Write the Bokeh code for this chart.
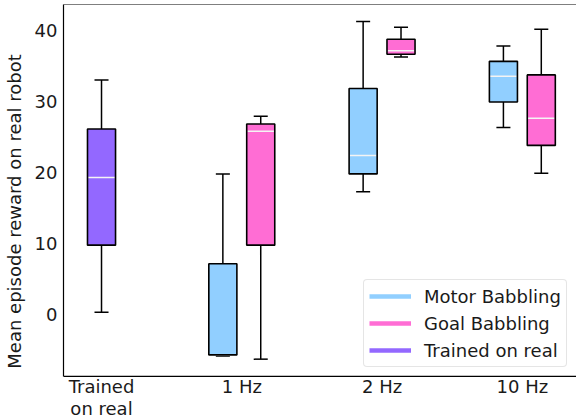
from bokeh.plotting import figure
from bokeh.models import ColumnDataSource, FixedTicker, Legend, LegendItem, Span
from bokeh.core.properties import value
from bokeh.embed import file_html
from bokeh.resources import INLINE

categories = ["Trained\non real", "1 Hz", "2 Hz", "10 Hz"]

# Trained on real (category 0)
trained_low = [0.4]
trained_q1 = [9.8]
trained_med = [19.3]
trained_q3 = [26.1]
trained_high = [33.0]

# Motor Babbling (1 Hz, 2 Hz, 10 Hz)
motor_low = [-5.75, 17.3, 26.3]
motor_q1 = [-5.6, 19.8, 29.9]
motor_med = [-5.6, 22.4, 33.5]
motor_q3 = [7.2, 31.8, 35.6]
motor_high = [19.8, 41.2, 37.75]

# Goal Babbling (1 Hz, 2 Hz, 10 Hz)
goal_low = [-6.2, 36.2, 19.9]
goal_q1 = [9.8, 36.6, 23.8]
goal_med = [25.8, 37.1, 27.6]
goal_q3 = [26.8, 38.7, 33.7]
goal_high = [27.9, 40.4, 40.1]

C_MOTOR = "#91CFFF"
C_GOAL = "#FF6DD4"
C_TRAINED = "#9368FF"
FONT = "DejaVu Sans"
TXT = "#1a1a1a"
FS = "18px"

BOX_W = 0.2
CAP_W = 0.1
X0, X1 = -0.271, 3.386
Y_AXIS = -8.63          # value where the bottom spine sits
Y0, Y1 = -14.53, 43.58  # frame range (extends below spine for the category labels)

p = figure(width=576, height=418, x_range=(X0, X1), y_range=(Y0, Y1),
           output_backend="svg", toolbar_location=None,
           min_border_left=63, min_border_right=0, min_border_top=4, min_border_bottom=0)
p.outline_line_color = None
p.xgrid.visible = False
p.ygrid.visible = False
p.xaxis.visible = False

def draw(cat_idx, offset, low, q1, med, q3, high, color):
    xs = [i + offset for i in cat_idx]
    src = ColumnDataSource(dict(x=xs, low=low, q1=q1, med=med, q3=q3, high=high,
                                l=[x - BOX_W / 2 for x in xs], r=[x + BOX_W / 2 for x in xs],
                                cl=[x - CAP_W / 2 for x in xs], cr=[x + CAP_W / 2 for x in xs],
                                ml=[x - BOX_W / 2 + 0.005 for x in xs], mr=[x + BOX_W / 2 - 0.005 for x in xs]))
    p.segment(x0="x", y0="q3", x1="x", y1="high", source=src, line_color="black", line_width=1.5)
    p.segment(x0="x", y0="low", x1="x", y1="q1", source=src, line_color="black", line_width=1.5)
    p.segment(x0="cl", y0="high", x1="cr", y1="high", source=src, line_color="black", line_width=1.5)
    p.segment(x0="cl", y0="low", x1="cr", y1="low", source=src, line_color="black", line_width=1.5)
    p.quad(left="l", right="r", bottom="q1", top="q3", source=src, fill_color=color, line_color=None)
    p.segment(x0="ml", y0="med", x1="mr", y1="med", source=src, line_color="#f4f4f4", line_width=1.5)
    p.quad(left="l", right="r", bottom="q1", top="q3", source=src, fill_color=None,
           line_color="black", line_width=1.6)

draw([0], 0.0, trained_low, trained_q1, trained_med, trained_q3, trained_high, C_TRAINED)
draw([1, 2, 3], -0.135, motor_low, motor_q1, motor_med, motor_q3, motor_high, C_MOTOR)
draw([1, 2, 3], 0.135, goal_low, goal_q1, goal_med, goal_q3, goal_high, C_GOAL)

# category labels under the bottom spine
lab_src = ColumnDataSource(dict(x=list(range(len(categories))),
                                y=[Y_AXIS] * len(categories), text=categories))
p.text(x="x", y="y", text="text", source=lab_src, y_offset=0, text_align="center",
       text_baseline="top", text_font=value(FONT), text_font_size=value(FS),
       text_color=TXT, text_line_height=1.03)

# legend proxies (no visible data)
nan = float("nan")
def proxy(color):
    return p.line(x="x", y="y", source=ColumnDataSource(dict(x=[nan], y=[nan])),
                  line_color=color, line_width=4.5)
r_m = proxy(C_MOTOR)
r_g = proxy(C_GOAL)
r_t = proxy(C_TRAINED)
legend = Legend(items=[LegendItem(label="Motor Babbling", renderers=[r_m]),
                       LegendItem(label="Goal Babbling", renderers=[r_g]),
                       LegendItem(label="Trained on real", renderers=[r_t])],
                location=(300, 51), label_text_font=FONT, label_text_font_size=FS,
                label_text_color=TXT, glyph_width=42, glyph_height=22, label_height=22,
                label_standoff=13, spacing=5, padding=5, margin=0,
                border_line_color="#cccccc", border_line_width=1, border_radius=4,
                background_fill_alpha=0.8)
p.add_layout(legend, "center")

# top and bottom spines
p.add_layout(Span(location=Y1, dimension="width", line_color="black", line_width=1.2))
p.add_layout(Span(location=Y_AXIS, dimension="width", line_color="black", line_width=1.2))

p.yaxis.bounds = (Y_AXIS, Y1)
p.yaxis.ticker = FixedTicker(ticks=[0, 10, 20, 30, 40])
p.yaxis.major_tick_line_color = None
p.yaxis.minor_tick_line_color = None
p.yaxis.major_tick_out = 0
p.yaxis.major_tick_in = 0
p.yaxis.minor_tick_out = 0
p.yaxis.minor_tick_in = 0
p.yaxis.axis_line_color = "black"
p.yaxis.axis_line_width = 1.2
p.yaxis.major_label_text_font = FONT
p.yaxis.major_label_text_font_size = FS
p.yaxis.major_label_text_color = TXT
p.yaxis.major_label_standoff = 6
p.yaxis.axis_label = "Mean episode reward on real robot"
p.yaxis.axis_label_text_font = FONT
p.yaxis.axis_label_text_font_size = FS
p.yaxis.axis_label_text_font_style = "normal"
p.yaxis.axis_label_text_color = TXT
p.yaxis.axis_label_standoff = 7

open("out.html", "w").write(file_html(p, INLINE))
